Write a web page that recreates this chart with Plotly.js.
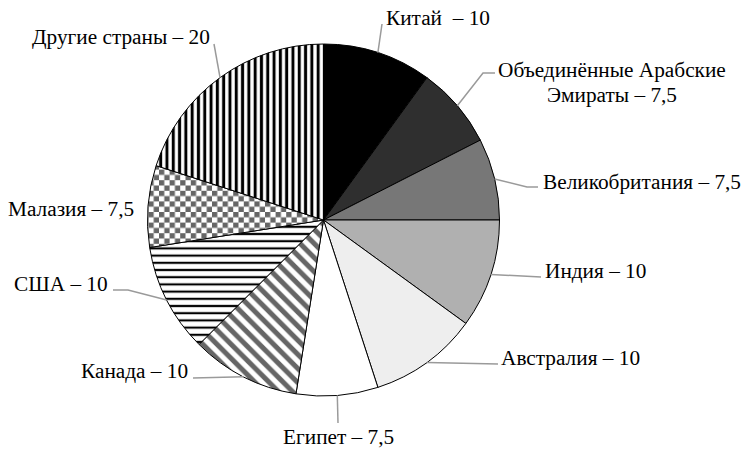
<!DOCTYPE html>
<html>
<head>
<meta charset="utf-8">
<script src="https://cdn.plot.ly/plotly-3.0.1.min.js"></script>
<style>html,body{margin:0;padding:0;background:#fff;}#chart{width:743px;height:450px;}</style>
</head>
<body>
<div id="chart"></div>
<script>
// ---- data ----
const labels = ['Китай', 'Объединённые Арабские<br>Эмираты', 'Великобритания', 'Индия', 'Австралия', 'Египет', 'Канада', 'США', 'Малазия', 'Другие страны'];
const values = [10, 7.5, 7.5, 10, 10, 7.5, 10, 10, 7.5, 20];

// ---- styles ----
const fillColors = ['#000000', '#2f2f2f', '#777777', '#b0b0b0', '#eeeeee', '#ffffff', '#ffffff', '#ffffff', '#ffffff', '#ffffff'];
const patShapes = ['', '', '', '', '', '', '\\', '-', '.', '|'];
const patFg = ['#000', '#000', '#000', '#000', '#000', '#000', '#666666', '#000000', '#666666', '#000000'];
const patSize = [8, 8, 8, 8, 8, 8, 10, 7.2, 10.6, 6.3];
const patSolid = [0.3, 0.3, 0.3, 0.3, 0.3, 0.3, 0.5, 0.3, 0.5, 0.48];
const FONT = "'Liberation Serif'";
const FS = 21.3;
const LINE_GAP = 25;

// ---- layout geometry (pixels) ----
const W = 743, H = 450;
const CX = 323.5, CY = 220, R = 176;
// leader-line bends / ends and label placement, per slice (pixels)
const leaderPts = [
  [[382, 24]],
  [[483, 73], [495, 73]],
  [[527, 187], [538, 187]],
  [[541, 277]],
  [[498, 364]],
  [[338, 423]],
  [[193, 378]],
  [[128, 290], [113, 290]],
  [],
  [[214, 44]]
];
const labelPos = [
  {x: 384, y: 18, a: 'left'},
  {x: 612, y: 70, a: 'center'},
  {x: 541, y: 182, a: 'left'},
  {x: 543, y: 271, a: 'left'},
  {x: 499, y: 358, a: 'left'},
  {x: 338, y: 437, a: 'center'},
  {x: 190, y: 371, a: 'right'},
  {x: 110, y: 284, a: 'right'},
  {x: 136, y: 209, a: 'right'},
  {x: 212, y: 37, a: 'right'}
];

const fmt = v => String(v).replace('.', ',');
const px2x = p => p / W;
const py2y = p => 1 - p / H;

const total = values.reduce((a, b) => a + b, 0);
let cum = 0;
const shapes = [];
const annotations = [];
values.forEach((v, i) => {
  const th = 2 * Math.PI * (cum + v / 2) / total;
  cum += v;
  const ax = CX + R * Math.sin(th), ay = CY - R * Math.cos(th);
  const pts = leaderPts[i];
  if (pts.length) {
    let d = 'M' + px2x(ax) + ',' + py2y(ay);
    pts.forEach(p => { d += ' L' + px2x(p[0]) + ',' + py2y(p[1]); });
    shapes.push({type: 'path', xref: 'paper', yref: 'paper', path: d,
      line: {color: '#9a9a9a', width: 1.5}});
  }
  const lp = labelPos[i];
  const full = labels[i] + (i === 0 ? '  ' : ' ') + '– ' + fmt(values[i]);
  full.split('<br>').forEach((line, k) => {
    annotations.push({
      xref: 'paper', yref: 'paper', x: px2x(lp.x), y: py2y(lp.y + k * LINE_GAP),
      xanchor: lp.a, yanchor: 'middle', align: 'center', showarrow: false,
      text: line,
      font: {family: FONT, size: FS, color: '#000'}
    });
  });
});

const trace = {
  type: 'pie',
  labels: labels,
  values: values,
  sort: false,
  direction: 'clockwise',
  rotation: 0,
  textinfo: 'none',
  hoverinfo: 'none',
  domain: {x: [(CX - R) / W, (CX + R) / W], y: [1 - (CY + R) / H, 1 - (CY - R) / H]},
  marker: {
    colors: fillColors,
    line: {color: '#000000', width: 1},
    pattern: {shape: patShapes, fgcolor: patFg, bgcolor: fillColors, size: patSize, solidity: patSolid, fillmode: 'replace'}
  }
};

const layout = {
  width: W, height: H,
  margin: {l: 0, r: 0, t: 0, b: 0},
  showlegend: false,
  paper_bgcolor: '#ffffff',
  plot_bgcolor: '#ffffff',
  font: {family: FONT, size: FS, color: '#000'},
  shapes: shapes,
  annotations: annotations
};

Plotly.newPlot('chart', [trace], layout, {staticPlot: true, displayModeBar: false}).then(gd => {
  // turn the dot texture into a checkerboard texture
  gd.querySelectorAll('pattern').forEach(p => {
    const c = p.querySelector('circle');
    if (!c) return;
    const w = parseFloat(p.getAttribute('width'));
    const h = w / 2;
    const path = document.createElementNS('http://www.w3.org/2000/svg', 'path');
    path.setAttribute('d', 'M0,0H' + h + 'V' + h + 'H0Z M' + h + ',' + h + 'H' + w + 'V' + w + 'H' + h + 'Z');
    path.setAttribute('style', 'fill:#666666;');
    c.parentNode.replaceChild(path, c);
  });
});
</script>
</body>
</html>
